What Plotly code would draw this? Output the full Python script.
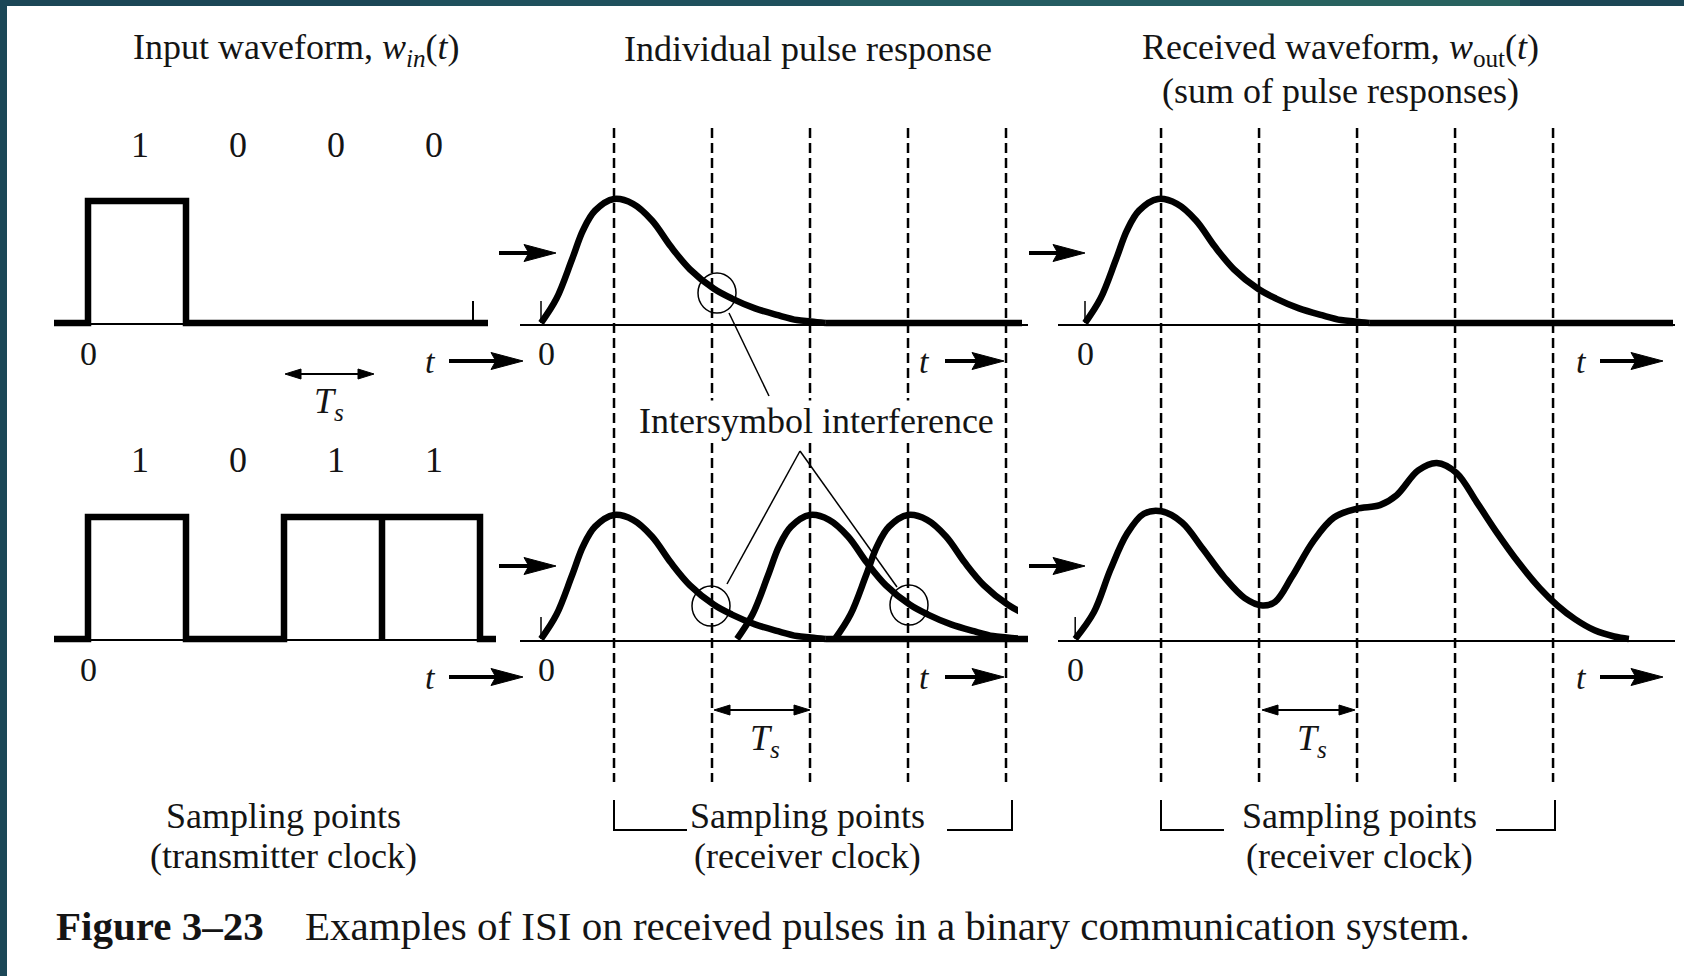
import plotly.graph_objects as go

# ---------------- data ----------------
bits_row1 = [1, 0, 0, 0]
bits_row2 = [1, 0, 1, 1]

# individual pulse response: time in symbol periods Ts from pulse start, amplitude relative to peak
pulse_t = [0.0, 0.158, 0.316, 0.429, 0.551, 0.745, 0.939, 1.133, 1.327, 1.520,
           1.765, 1.949, 2.184, 2.418, 2.612, 2.755, 2.9]
pulse_v = [0.0, 0.197, 0.512, 0.748, 0.906, 1.0, 0.961, 0.827, 0.614, 0.433,
           0.276, 0.197, 0.118, 0.063, 0.024, 0.013, 0.0]

# received waveform for 1 0 1 1 (sum of pulse responses), same units
recv_t = [-0.10, 0.09, 0.26, 0.43, 0.60, 0.78, 0.99, 1.20, 1.42, 1.63, 1.81, 1.94,
          2.11, 2.33, 2.54, 2.77, 3.01, 3.18, 3.40, 3.59, 3.79, 4.00, 4.21, 4.43,
          4.64, 4.82, 5.00, 5.20, 5.40, 5.55]
recv_v = [0.0, 0.215, 0.56, 0.85, 1.01, 1.03, 0.94, 0.73, 0.50, 0.33, 0.27, 0.30,
          0.50, 0.79, 0.98, 1.05, 1.08, 1.16, 1.36, 1.42, 1.34, 1.10, 0.85, 0.61,
          0.41, 0.27, 0.16, 0.07, 0.02, 0.0]

panel_titles = ["Input waveform, <i>w<sub>in</sub></i>(<i>t</i>)",
                "Individual pulse response",
                "Received waveform, <i>w</i><sub>out</sub>(<i>t</i>)"]
title3_line2 = "(sum of pulse responses)"
sampling_labels = [("Sampling points", "(transmitter clock)"),
                   ("Sampling points", "(receiver clock)"),
                   ("Sampling points", "(receiver clock)")]
isi_label = "Intersymbol interference"
ts_label = "<i>T<sub>s</sub></i>"
caption_bold = "<b>Figure 3–23</b>"
caption_text = "Examples of ISI on received pulses in a binary communication system."

# ---------------- layout constants (pixels) ----------------
W, H = 1684, 976
SERIF = "Liberation Serif"
INK = "#141414"
TS = 98
AMP_SQ = 122
AMP = 124
BASE = [323, 639]
P1, P2, P3 = 88, 541, 1085
OFF2, OFF3 = 0.745, 0.776
CLIP2 = 1018
THICK = 6.5

fig = go.Figure()


def add_line(xs, ys, width=THICK, spline=False, axis="x"):
    fig.add_trace(go.Scatter(
        x=xs, y=ys, mode="lines", xaxis=axis, yaxis="y", hoverinfo="skip",
        line=dict(color="black", width=width, shape="spline" if spline else "linear",
                  smoothing=1.0),
        showlegend=False))


def pulse_xy(x0, base):
    return [x0 + t * TS for t in pulse_t], [base - v * AMP for v in pulse_v]


shapes = []
ann = []


def seg(x0, y0, x1, y1, w=2, dash=None, layer="above"):
    d = dict(type="line", x0=x0, y0=y0, x1=x1, y1=y1, xref="x", yref="y", layer=layer,
             line=dict(color="black", width=w))
    if dash:
        d["line"]["dash"] = dash
    shapes.append(d)


def head(xt, y, direction, length, half, notch=0.0):
    b = xt - direction * length
    n = xt - direction * length * (1 - notch)
    path = f"M {xt},{y} L {b},{y - half} L {n},{y} L {b},{y + half} Z"
    shapes.append(dict(type="path", path=path, xref="x", yref="y",
                       fillcolor="black", line=dict(color="black", width=1)))


def fat_arrow(x0, x1, y):
    seg(x0, y, x1 - 26, y, w=4)
    head(x1, y, 1, 32, 8.5, notch=0.15)


def ts_arrow(x0, x1, y):
    seg(x0 + 8, y, x1 - 8, y, w=2)
    head(x0, y, -1, 16, 5)
    head(x1, y, 1, 16, 5)


def txt(x, y, s, size=36, xanchor="center", bg=None):
    d = dict(x=x, y=y, xref="x", yref="y", text=s, showarrow=False,
             xanchor=xanchor, yanchor="middle",
             font=dict(family=SERIF, size=size, color=INK))
    if bg:
        d["bgcolor"] = bg
        d["borderpad"] = 0
    ann.append(d)


# ---------------- panel 1 : input square waves ----------------
def square(bits, base, end):
    xs, ys = [54, P1], [base, base]
    for k, b in enumerate(bits):
        a, c = P1 + k * TS, P1 + (k + 1) * TS
        if b:
            xs += [a, a, c, c]
            ys += [base, base - AMP_SQ, base - AMP_SQ, base]
        else:
            xs += [a, c]
            ys += [base, base]
    xs.append(end)
    ys.append(base)
    return xs, ys


for r, (bits, end) in enumerate([(bits_row1, 488), (bits_row2, 496)]):
    base = BASE[r]
    seg(54, base + 1, end, base + 1, w=2, layer="below")
    xs, ys = square(bits, base, end)
    add_line(xs, ys)
    for k, b in enumerate(bits):
        txt(P1 + (k + 0.5) * TS + 3, [145, 460][r], str(b), size=36)
    txt(P1, base + 30, "0", size=34)
    txt(430, base + 38, "<i>t</i>", size=34)
    fat_arrow(449, 523, base + 38)
seg(473, BASE[0] - 22, 473, BASE[0], w=2)
ts_arrow(285, 374, 374)
txt(329, 403, ts_label, size=36)

# ---------------- panel 2 : individual pulse responses ----------------
for r in range(2):
    base = BASE[r]
    seg(520, base + 2, 1028, base + 2, w=2, layer="below")
    seg(P2, base - 22, P2, base, w=1.5)
    fat_arrow(499, 556, [253, 566][r])
    txt(P2 + 5, base + 30, "0", size=34)
    txt(924, base + 38, "<i>t</i>", size=34)
    fat_arrow(945, 1004, base + 38)

for k in range(5):
    x = P2 + (OFF2 + k) * TS
    seg(x, 128, x, 782, w=2.5, dash="10px,5px", layer="below")

xs, ys = pulse_xy(P2, BASE[0])
add_line(xs, ys, spline=True)
add_line([xs[-1], 1022], [BASE[0], BASE[0]])
add_line([xs[-1], 1028], [BASE[1], BASE[1]])
for k, b in enumerate(bits_row2):
    if b:
        xs, ys = pulse_xy(P2 + k * TS, BASE[1])
        add_line(xs, ys, spline=True, axis="x2")

# ISI markers
shapes.append(dict(type="circle", x0=698, x1=736, y0=273, y1=313, xref="x", yref="y",
                   line=dict(color="black", width=1.5)))
seg(729, 313, 769, 396, w=1.5)
for cx, cy in [(711, 606), (909, 605)]:
    shapes.append(dict(type="circle", x0=cx - 19, x1=cx + 19, y0=cy - 20, y1=cy + 20,
                       xref="x", yref="y", line=dict(color="black", width=1.5)))
seg(800, 451, 727, 584, w=1.5)
seg(800, 451, 897, 587, w=1.5)
txt(816, 421, isi_label, size=36, bg="white")

ts_arrow(714, 810, 710)
txt(765, 740, ts_label, size=36)

# ---------------- panel 3 : received waveform ----------------
for k in range(5):
    x = P3 + (OFF3 + k) * TS
    seg(x, 128, x, 782, w=2.5, dash="10px,5px", layer="below")

for r in range(2):
    base = BASE[r]
    seg(1058, base + 2, 1675, base + 2, w=2, layer="below")
    fat_arrow(1029, 1085, [253, 566][r])
    txt(1581, base + 38, "<i>t</i>", size=34)
    fat_arrow(1600, 1663, base + 38)
seg(P3, BASE[0] - 22, P3, BASE[0], w=1.5)
seg(P3 + recv_t[0] * TS, BASE[1] - 22, P3 + recv_t[0] * TS, BASE[1], w=1.5)
txt(P3, BASE[0] + 30, "0", size=34)
txt(P3 - 10, BASE[1] + 30, "0", size=34)

xs, ys = pulse_xy(P3, BASE[0])
add_line(xs, ys, spline=True)
add_line([xs[-1], 1673], [BASE[0], BASE[0]])
add_line([P3 + t * TS for t in recv_t], [BASE[1] - v * AMP for v in recv_v], spline=True)

ts_arrow(1262, 1355, 710)
txt(1312, 740, ts_label, size=36)

# ---------------- brackets and sampling labels ----------------
for (xl, xr, hl, hr) in [(614, 1012, 687, 947), (1161, 1555, 1224, 1496)]:
    shapes.append(dict(type="path", xref="x", yref="y",
                       path=f"M {xl},800 L {xl},830 L {hl},830",
                       line=dict(color="black", width=2)))
    shapes.append(dict(type="path", xref="x", yref="y",
                       path=f"M {hr},830 L {xr},830 L {xr},800",
                       line=dict(color="black", width=2)))

for cx, (l1, l2) in zip([283, 807, 1359], sampling_labels):
    txt(cx, 816, l1, size=36)
    txt(cx, 856, l2, size=36)

# ---------------- titles & caption ----------------
for cx, t in zip([296, 808, 1340], panel_titles):
    txt(cx, 49, t, size=36)
txt(1340, 91, title3_line2, size=36)
txt(54, 926, caption_bold, size=41, xanchor="left")
txt(303, 926, caption_text, size=41, xanchor="left")

# ---------------- page border (scan frame) ----------------
top_cols = [(0, 420, "#1b4656"), (420, 840, "#1f505d"), (840, 1260, "#245c62"),
            (1260, 1520, "#28625f"), (1520, 1684, "#1c4655")]
for a, b, c in top_cols:
    shapes.append(dict(type="rect", xref="x", yref="y", x0=a, x1=b, y0=0, y1=6,
                       fillcolor=c, line=dict(width=0)))
shapes.append(dict(type="rect", xref="x", yref="y", x0=0, x1=7, y0=0, y1=H,
                   fillcolor="#1b4757", line=dict(width=0)))

fig.update_layout(
    width=W, height=H, margin=dict(l=0, r=0, t=0, b=0, pad=0),
    paper_bgcolor="white", plot_bgcolor="rgba(0,0,0,0)", showlegend=False,
    xaxis=dict(range=[0, W], domain=[0, 1], visible=False, fixedrange=True),
    xaxis2=dict(range=[0, CLIP2], domain=[0, CLIP2 / W], anchor="y", visible=False,
                fixedrange=True),
    yaxis=dict(range=[H, 0], domain=[0, 1], visible=False, fixedrange=True),
    shapes=shapes, annotations=ann,
)

fig.write_html("out.html", config={"displayModeBar": False},
               post_script="document.body.style.margin='0';document.body.style.overflow='hidden';")
